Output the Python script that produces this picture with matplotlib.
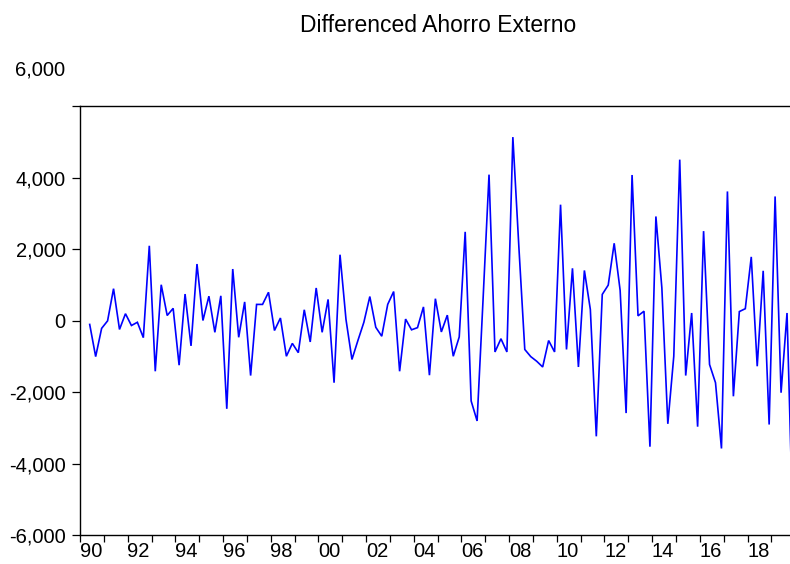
import matplotlib
matplotlib.use("Agg")
import matplotlib.pyplot as plt
import numpy as np
import pandas as pd
from matplotlib.ticker import FixedLocator, FuncFormatter

plt.rcParams["font.family"] = ["Liberation Sans", "DejaVu Sans"]

title = "Differenced Ahorro Externo"
start_quarter = "1990Q2"
end_quarter = "2019Q4"

# quarterly first differences of external savings
d_ahorro_externo = [
    -110, -1010, -220, -10, 890, -250, 190, -140, -50, -480,
    2090, -1420, 1000, 140, 340, -1250, 740, -710, 1580, 0,
    680, -330, 690, -2470, 1440, -470, 520, -1540, 450, 450,
    790, -280, 70, -1000, -640, -900, 300, -600, 910, -330,
    590, -1740, 1840, 30, -1090, -560, -50, 670, -190, -440,
    450, 810, -1420, 40, -260, -200, 380, -1530, 610, -320,
    150, -1000, -460, 2480, -2250, -2810, 590, 4080, -880, -510,
    -880, 5130, 2080, -810, -1010, -1140, -1300, -560, -880, 3240,
    -810, 1460, -1300, 1400, 310, -3240, 730, 990, 2160, 840,
    -2590, 4070, 130, 260, -3530, 2910, 910, -2890, -1000, 4500,
    -1540, 210, -2970, 2500, -1230, -1740, -3580, 3610, -2120, 250,
    330, 1780, -1280, 1390, -2910, 3470, -2020, 210, -5900,
]

y_ticks = [-6000, -4000, -2000, 0, 2000, 4000, 6000]
year_ticks = list(range(1990, 2021))
year_labels = list(range(1990, 2020, 2))

periods = pd.period_range(start_quarter, end_quarter, freq="Q")
x = periods.year + (periods.quarter - 1) / 4.0 + 0.157

fig = plt.figure(figsize=(7.9, 5.64), dpi=100)
W, H = 790.0, 564.0
ax = fig.add_axes([80 / W, (H - 535) / H, 715.2 / W, 429 / H])

ax.plot(x, d_ahorro_externo, color="#0000ff", lw=1.2, solid_joinstyle="miter")

ax.set_xlim(1990, 2020)
ax.set_ylim(-6000, 6000)

for side in ("left", "bottom", "top", "right"):
    ax.spines[side].set_color("black")
    ax.spines[side].set_linewidth(1.0)

LABEL_SIZE = 14.5

# y axis: outward ticks, comma-formatted labels
ax.yaxis.set_major_locator(FixedLocator(y_ticks))
ax.yaxis.set_major_formatter(
    FuncFormatter(lambda v, p: "" if v == 6000 else f"{int(v):,}")
)
ax.tick_params(axis="y", direction="out", length=5.8, width=0.9, pad=4.5,
               labelsize=LABEL_SIZE, colors="black")
fig.text(65 / W, (H - 70) / H, "6,000", ha="right", va="center",
         fontsize=LABEL_SIZE)

# x axis: a tick at every year, labels every second year shifted into the year
ax.xaxis.set_major_locator(FixedLocator(year_ticks))
ax.xaxis.set_major_formatter(FuncFormatter(lambda v, p: ""))
ax.xaxis.set_minor_locator(FixedLocator([yr + 0.46 for yr in year_labels]))
ax.xaxis.set_minor_formatter(FuncFormatter(lambda v, p: f"{int(v) % 100:02d}"))
ax.tick_params(axis="x", which="major", direction="out", length=5.0, width=0.9,
               colors="black")
ax.tick_params(axis="x", which="minor", length=0, pad=5.0,
               labelsize=LABEL_SIZE, colors="black")

fig.text(438 / W, (H - 25) / H, title, ha="center", va="center", fontsize=16.5)

fig.savefig("out.png", dpi=100)
